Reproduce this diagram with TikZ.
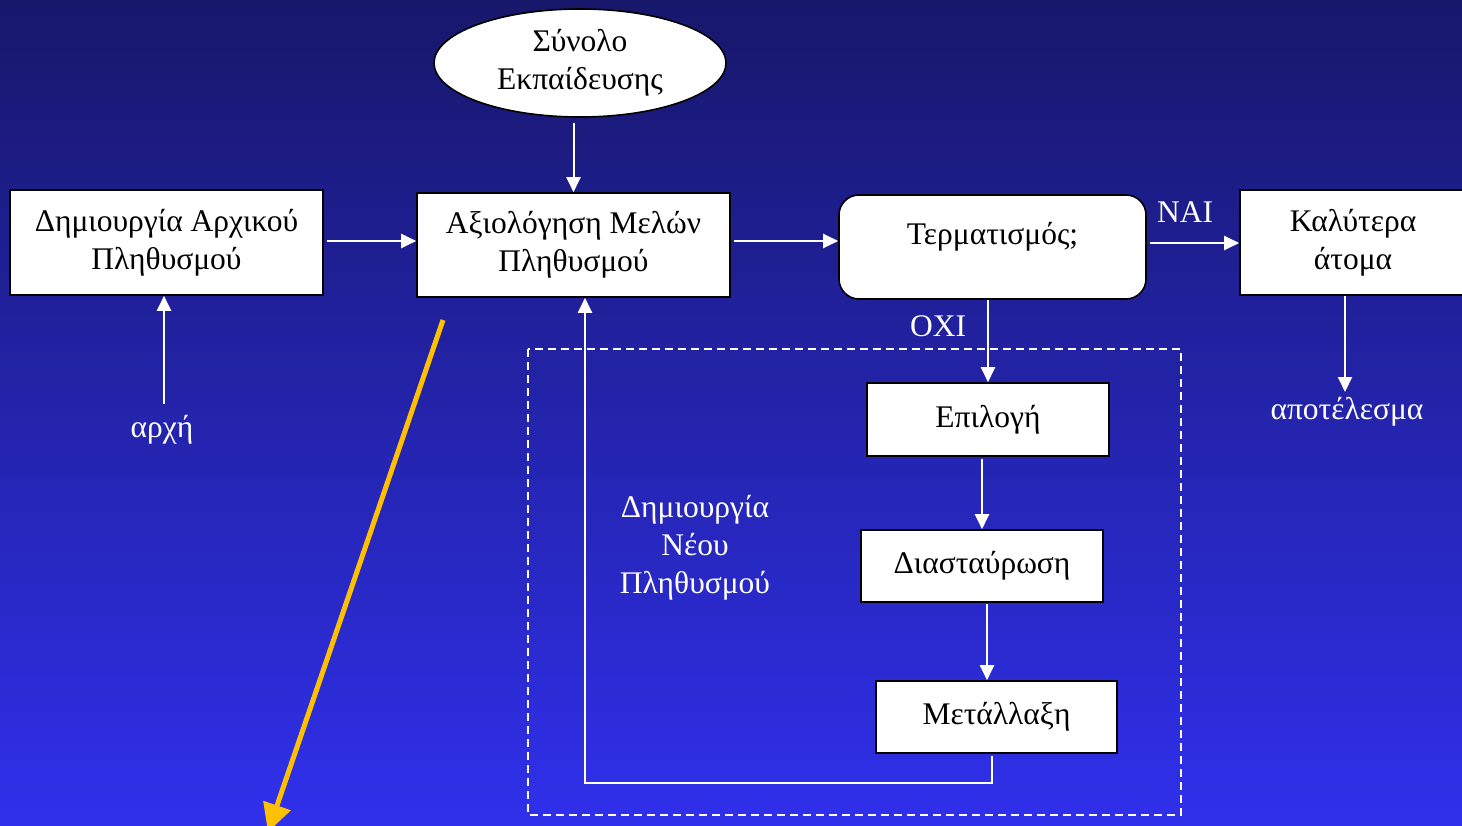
\documentclass[tikz,border=0pt]{standalone}
\usepackage{fontspec}
\setmainfont{Liberation Serif}
\usetikzlibrary{arrows.meta,shapes.geometric}
\definecolor{bgtop}{RGB}{23,23,107}
\definecolor{bgbot}{RGB}{48,48,236}
\definecolor{gold}{RGB}{255,192,0}
\begin{document}
\begin{tikzpicture}[x=1pt,y=-1pt,
  box/.style={draw=black,line width=1.6pt,fill=white,font=\fontsize{31.5}{38}\selectfont,align=center,inner sep=0pt},
  lbl/.style={text=white,font=\fontsize{31.5}{38}\selectfont,align=center,inner sep=0pt},
  arr/.style={draw=white,line width=2pt,-{Triangle[length=15pt,width=14pt]}},
  goldarr/.style={draw=gold,line width=5pt,-{Triangle[length=28pt,width=28pt]}},
  dashbox/.style={draw=white,line width=1.5pt,dash pattern=on 8pt off 5pt}]
\useasboundingbox (0,0) rectangle (1462,826);
\shade[top color=bgtop,bottom color=bgbot] (0,0) rectangle (1462,826);

% dashed region
\draw[dashbox] (528,349) rectangle (1181,815);

% nodes
\node[box,ellipse,minimum width=292pt,minimum height=108pt] (train) at (580,63) {Σύνολο\\Εκπαίδευσης};
\node[box,minimum width=313pt,minimum height=105pt] (init) at (166.5,242.5) {Δημιουργία Αρχικού\\Πληθυσμού};
\node[box,minimum width=313pt,minimum height=104pt] (eval) at (573.5,245) {Αξιολόγηση Μελών\\Πληθυσμού};
\node[box,rounded corners=20pt,minimum width=307pt,minimum height=104pt,text height=22pt,text depth=26pt] (term) at (992.5,247) {Τερματισμός;};
\node[box,minimum width=226pt,minimum height=105pt] (best) at (1353,242.5) {Καλύτερα\\άτομα};
\node[box,minimum width=242pt,minimum height=73pt] (sel) at (988,419.5) {Επιλογή};
\node[box,minimum width=242pt,minimum height=72pt] (cross) at (982,566) {Διασταύρωση};
\node[box,minimum width=241pt,minimum height=72pt] (mut) at (996.5,717) {Μετάλλαξη};

\node[lbl] (start) at (162,430) {αρχή};
\node[lbl] (result) at (1347,412) {αποτέλεσμα};
\node[lbl] (yes) at (1185,212) {ΝΑΙ};
\node[lbl] (no) at (938,326) {ΟΧΙ};
\node[lbl] (newpop) at (695,548) {Δημιουργία\\Νέου\\Πληθυσμού};

% connectors
\draw[arr,shorten <=5pt] (eval.north |- train.south) -- (eval.north);
\draw[arr,shorten <=3pt] (init.east |- 0,241) -- (eval.west |- 0,241);
\draw[arr,shorten <=3pt] (eval.east |- 0,241) -- (term.west |- 0,241);
\draw[arr,shorten <=3pt] (term.east |- 0,243) -- (best.west |- 0,243);
\draw[arr] (sel.north |- term.south) -- (sel.north);
\draw[arr,shorten <=2pt] (cross.north |- sel.south) -- (cross.north);
\coordinate (c1) at ([xshift=5pt]cross.south);
\draw[arr,shorten <=1pt] (c1) -- (c1 |- mut.north);
\coordinate (m1) at ([xshift=-4.5pt]mut.south);
\coordinate (fb) at (585,783);
\draw[arr,shorten <=2pt] (m1) |- (fb) -- (fb |- eval.south);
\coordinate (s1) at (164,404);
\draw[arr] (s1) -- (s1 |- init.south);
\coordinate (r1) at (1345,392);
\draw[arr] (r1 |- best.south) -- (r1);

\coordinate (o1) at (443,320);
\coordinate (o2) at (268,832);
\draw[goldarr] (o1) -- (o2);
\end{tikzpicture}
\end{document}
